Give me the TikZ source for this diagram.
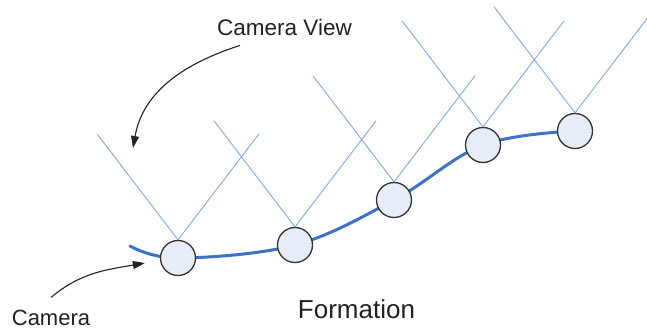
\documentclass[tikz,border=0pt]{standalone}
\usepackage{fontspec}
\setmainfont{Liberation Sans}
\usepackage{xcolor}
\usetikzlibrary{
	arrows.meta,
	backgrounds
}

\definecolor{viewblue}{HTML}{82A8DE}
\definecolor{formblue}{HTML}{3C73C5}
\definecolor{camfill}{HTML}{E6EDF8}
\definecolor{camedge}{HTML}{333333}
\definecolor{txtgray}{HTML}{222222}

\begin{document}
\begin{tikzpicture}[x=1pt, y=1pt,
		cam/.style={circle, draw=camedge, fill=camfill, line width=1.3pt, minimum size=35pt, inner sep=0pt},
		viewline/.style={viewblue, line width=0.9pt},
		formline/.style={formblue, line width=3pt, line cap=round},
		callout/.style={-{Triangle[length=12pt,width=8pt]}, line width=1.1pt, txtgray},
		lbl/.style={text=txtgray, inner sep=0pt, anchor=base}]
		\useasboundingbox (0,0) rectangle (647,330);
		
		% 摄像机
		\node[cam] (cam1) at (178,72)  {};
		\node[cam] (cam2) at (295,85)  {};
		\node[cam] (cam3) at (394,130) {};
		\node[cam] (cam4) at (483,185) {};
		\node[cam] (cam5) at (575,199) {};
		
		% 视野
		\foreach \c in {1,...,5}{
			\draw[viewline] (cam\c.north) -- ++(-81,106);
			\draw[viewline] (cam\c.north) -- ++(81,106);
		}
		
		% 队形曲线
		\coordinate (tail) at (130,84);
		\begin{scope}[on background layer]
			\draw[formline] plot[smooth, tension=0.6] coordinates
			{(tail) (cam1.center) (cam2.center) (cam3.center) (cam4.center) (cam5.center)};
		\end{scope}
		
		% 文字和箭头
		\node[lbl, font=\fontsize{22.5}{27}\selectfont] (viewlbl) at (284.5,294) {Camera View};
		\node[lbl, font=\fontsize{22}{26}\selectfont] (camlbl) at (51,5) {Camera};
		\node[lbl, font=\fontsize{26}{31}\selectfont] (formlbl) at (356.5,12) {Formation};
		
		\coordinate (viewtip) at (133,182);
		\draw[callout] ([shift={(23,-9)}]viewlbl.south west) to[out=198, in=80] (viewtip);
		\draw[callout] ([yshift=12pt]camlbl.north) to[out=40, in=190] ([shift={(-15,-5)}]cam1.west);
	\end{tikzpicture}
\end{document}
